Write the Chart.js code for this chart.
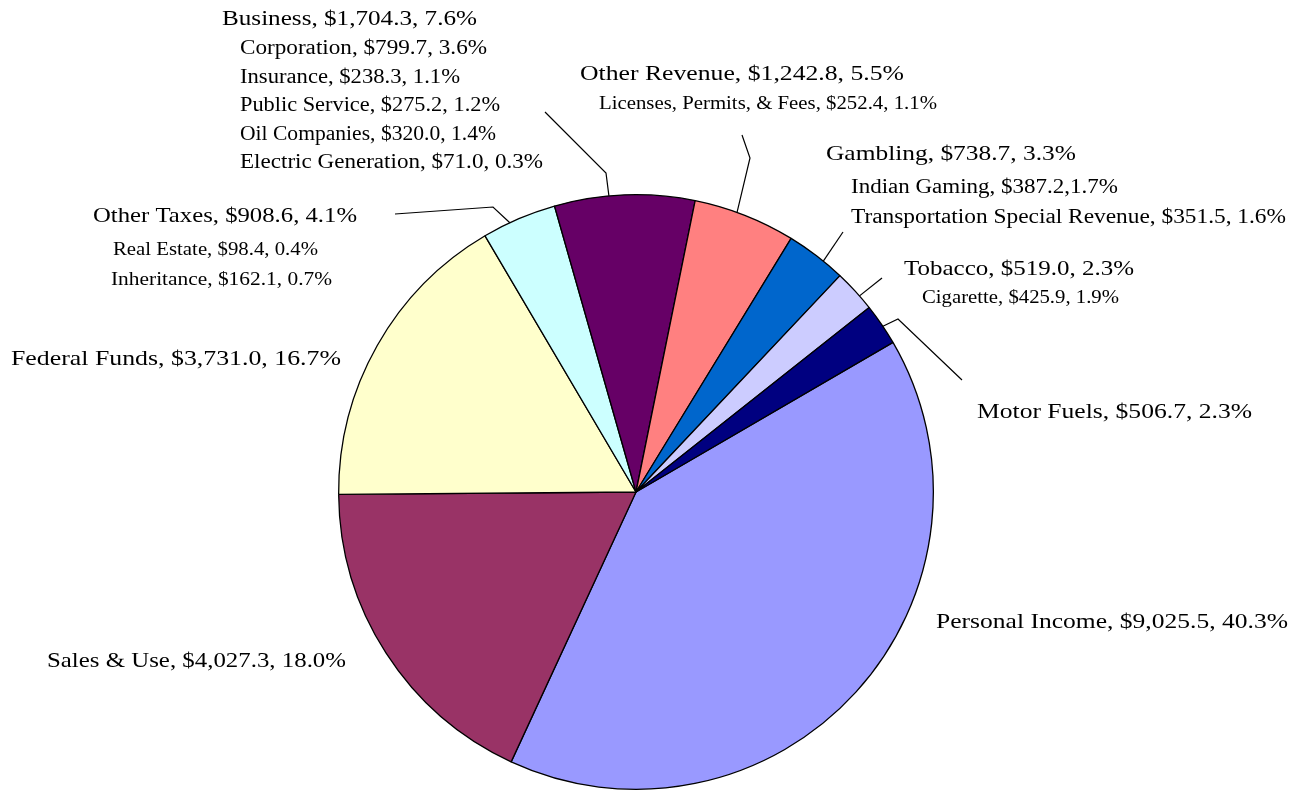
<!DOCTYPE html>
<html lang="en">
<head>
    <meta charset="UTF-8">
    <title>Revenue Sources</title>
    <script src="https://cdn.jsdelivr.net/npm/chart.js"></script>
    <style>
        body { margin: 0; background: #fff; }
        #wrap { width: 1302px; height: 791px; }
    </style>
</head>
<body>
    <div id="wrap"><canvas id="chart" width="1302" height="791"></canvas></div>

    <script>
        // revenue categories, millions of dollars
        const categories = ['Personal Income', 'Sales & Use', 'Federal Funds', 'Other Taxes', 'Business',
                            'Other Revenue', 'Gambling', 'Tobacco', 'Motor Fuels'];
        const amounts = [9025.5, 4027.3, 3731.0, 908.6, 1704.3, 1242.8, 738.7, 519.0, 506.7];
        const shares = ['40.3%', '18.0%', '16.7%', '4.1%', '7.6%', '5.5%', '3.3%', '2.3%', '2.3%'];
        const colors = ['#9999FF', '#993366', '#FFFFCC', '#CCFFFF', '#660066', '#FF8080', '#0066CC', '#CCCCFF', '#000080'];

        // breakdown lines shown under some labels
        const subLabels = {
            'Other Taxes': ['Real Estate, $98.4, 0.4%', 'Inheritance, $162.1, 0.7%'],
            'Business': ['Corporation, $799.7, 3.6%', 'Insurance, $238.3, 1.1%', 'Public Service, $275.2, 1.2%',
                         'Oil Companies, $320.0, 1.4%', 'Electric Generation, $71.0, 0.3%'],
            'Other Revenue': ['Licenses, Permits, & Fees, $252.4, 1.1%'],
            'Gambling': ['Indian Gaming, $387.2,1.7%', 'Transportation Special Revenue, $351.5, 1.6%'],
            'Tobacco': ['Cigarette, $425.9, 1.9%']
        };

        function money(v) {
            return '$' + v.toLocaleString('en-US', { minimumFractionDigits: 1, maximumFractionDigits: 1 });
        }

        // label layout: x, baseline, font size, width of main line; sub lines [x, baseline, size, width]
        const layout = [
            { x: 936, y: 628, size: 22, w: 352 },
            { x: 47, y: 667, size: 22, w: 299 },
            { x: 11, y: 365, size: 22, w: 330 },
            { x: 93, y: 222, size: 22, w: 264, subs: [[113, 255, 18, 205], [111, 285, 18, 221]],
              line: { frac: 0.37, pts: [[493, 207], [395, 214]] } },
            { x: 222, y: 25, size: 22, w: 255,
              subs: [[240, 54, 20, 247], [240, 83, 20, 220], [240, 111, 20, 260], [240, 140, 20, 256], [240, 168, 20, 303]],
              line: { frac: 0.39, pts: [[606, 173], [545, 112]] } },
            { x: 580, y: 80, size: 22, w: 324, subs: [[599, 109, 18, 338]],
              line: { frac: 0.42, pts: [[750, 158], [742, 135]] } },
            { x: 826, y: 160, size: 22, w: 250, subs: [[851, 193, 20, 267], [851, 223, 20, 435]],
              line: { frac: 0.64, pts: [[843, 232]] } },
            { x: 904, y: 275, size: 22, w: 230, subs: [[922, 303, 18, 197]],
              line: { frac: 0.65, pts: [[882, 278]] } },
            { x: 977, y: 418, size: 22, w: 275,
              line: { frac: 0.55, pts: [[898, 319], [962, 380]] } }
        ];

        function fitText(ctx, text, x, y, size, w) {
            ctx.font = size + 'px "Liberation Serif", serif';
            const m = ctx.measureText(text).width;
            ctx.save();
            ctx.translate(x, y);
            ctx.scale(w / m, 1);
            ctx.fillText(text, 0, 0);
            ctx.restore();
        }

        const labelPlugin = {
            id: 'sliceLabels',
            afterDatasetsDraw(chart) {
                const ctx = chart.ctx;
                const arcs = chart.getDatasetMeta(0).data;
                ctx.save();
                ctx.fillStyle = '#000';
                ctx.strokeStyle = '#000';
                ctx.lineWidth = 1.2;
                ctx.textBaseline = 'alphabetic';
                categories.forEach((name, i) => {
                    const L = layout[i];
                    const arc = arcs[i];
                    if (L.line) {
                        const a = arc.startAngle + (arc.endAngle - arc.startAngle) * L.line.frac;
                        ctx.beginPath();
                        ctx.moveTo(arc.x + Math.cos(a) * arc.outerRadius, arc.y + Math.sin(a) * arc.outerRadius);
                        L.line.pts.forEach(p => ctx.lineTo(p[0], p[1]));
                        ctx.stroke();
                    }
                    fitText(ctx, name + ', ' + money(amounts[i]) + ', ' + shares[i], L.x, L.y, L.size, L.w);
                    (subLabels[name] || []).forEach((t, k) => {
                        const s = L.subs[k];
                        fitText(ctx, t, s[0], s[1], s[2], s[3]);
                    });
                });
                ctx.restore();
            }
        };

        new Chart(document.getElementById('chart'), {
            type: 'pie',
            data: {
                labels: categories,
                datasets: [{
                    data: amounts,
                    backgroundColor: colors,
                    borderColor: '#000',
                    borderWidth: 1.3
                }]
            },
            options: {
                responsive: false,
                animation: false,
                rotation: 59.8,
                layout: { padding: { left: 338, right: 368, top: 194, bottom: 1 } },
                plugins: {
                    legend: { display: false },
                    tooltip: { enabled: false }
                }
            },
            plugins: [labelPlugin]
        });
    </script>
</body>
</html>
